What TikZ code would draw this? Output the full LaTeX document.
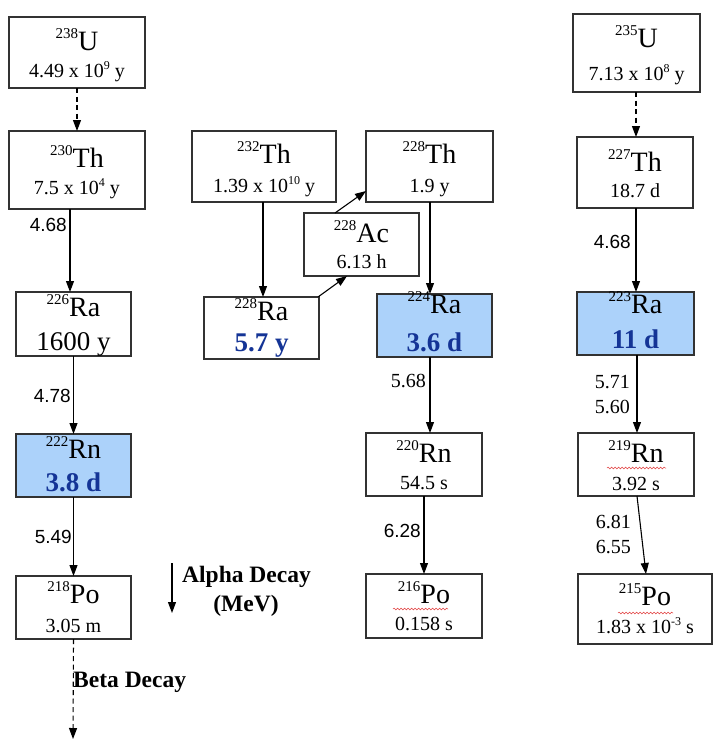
\documentclass[tikz,border=0pt]{standalone}
\usepackage{fontspec}
\setmainfont{Liberation Serif}
\setsansfont{Liberation Sans}
\usetikzlibrary{arrows.meta,decorations.pathmorphing}

\definecolor{rafill}{RGB}{172,210,250}
\definecolor{hlblue}{RGB}{20,52,150}
\definecolor{boxline}{RGB}{50,50,50}
\definecolor{squiggle}{RGB}{225,60,60}

% nuclide symbol with its mass number as a raised prefix
\newcommand\iso[2]{\raisebox{12pt}{\fontsize{15}{15}\selectfont #1}#2}
% raised exponent inside a half-life
\newcommand\pw[1]{\raisebox{8pt}{\fontsize{12}{12}\selectfont #1}}
% nuclide box from its left, top, right and bottom edges
\newcommand\nuc[6]{%
  \node[box,#6,minimum width={(#4-#2)*1pt},minimum height={(#5-#3)*1pt}]
    (#1) at ({(#2+#4)/2},{(#3+#5)/2}) {};%
  \def\cx{(#2+#4)/2}}

\tikzset{
  box/.style={draw=boxline,line width=1.1pt,fill=white,inner sep=0pt,outer sep=0pt},
  hot/.style={fill=rafill},
  plain/.style={},
  elt/.style={anchor=base,inner sep=0pt,font=\fontsize{28}{30}\selectfont},
  life/.style={anchor=base,inner sep=0pt,font=\fontsize{20}{24}\selectfont},
  biglife/.style={anchor=base,inner sep=0pt,font=\fontsize{27}{30}\selectfont},
  hotlife/.style={anchor=base,inner sep=0pt,font=\fontsize{27}{30}\selectfont\bfseries,text=hlblue},
  ensans/.style={anchor=base east,inner sep=0pt,font=\sffamily\fontsize{19}{22}\selectfont},
  enserif/.style={anchor=base east,inner sep=0pt,font=\fontsize{20}{22}\selectfont},
  legend/.style={inner sep=0pt,font=\fontsize{23.5}{26}\selectfont\bfseries},
  arr/.style={line width=1.1pt,-{Triangle[length=11pt,width=8pt]}},
  darr/.style={arr,dash pattern=on 5pt off 3.5pt},
  spell/.style={draw=squiggle,line width=0.5pt,decorate,
    decoration={snake,amplitude=0.9pt,segment length=3.5pt}},
}

\begin{document}
\begin{tikzpicture}[x=1pt,y=-1pt]
\useasboundingbox (0,0) rectangle (713,740);

% ---- uranium-238 series ----
\nuc{u238}{9}{17}{145}{88}{plain}
\node[elt] (u238e) at ({\cx},50) {\iso{238}{U}};
\node[life] (u238l) at ({\cx},77) {4.49 x 10\pw{9} y};

\nuc{th230}{9}{131}{145}{209}{plain}
\node[elt] (th230e) at ({\cx},167) {\iso{230}{Th}};
\node[life] (th230l) at ({\cx},194) {7.5 x 10\pw{4} y};

\nuc{ra226}{16}{292}{131}{356}{plain}
\node[elt] (ra226e) at ({\cx},316) {\iso{226}{Ra}};
\node[biglife] (ra226l) at ({\cx},350) {1600 y};

\nuc{rn222}{16}{434}{131}{497}{hot}
\node[elt] (rn222e) at ({\cx},458) {\iso{222}{Rn}};
\node[hotlife] (rn222l) at ({\cx},491) {3.8 d};

\nuc{po218}{16}{576}{131}{639}{plain}
\node[elt] (po218e) at ({\cx},603) {\iso{218}{Po}};
\node[life] (po218l) at ({\cx},632) {3.05 m};

% ---- thorium-232 series ----
\nuc{th232}{192}{131}{336}{202}{plain}
\node[elt] (th232e) at ({\cx},163) {\iso{232}{Th}};
\node[life] (th232l) at ({\cx},192) {1.39 x 10\pw{10} y};

\nuc{ra228}{204}{297}{319}{359}{plain}
\node[elt] (ra228e) at ({\cx},320) {\iso{228}{Ra}};
\node[hotlife] (ra228l) at ({\cx},351) {5.7 y};

\nuc{ac228}{304}{213}{419}{276}{plain}
\node[elt] (ac228e) at ({\cx},242) {\iso{228}{Ac}};
\node[life] (ac228l) at ({\cx},268) {6.13 h};

\nuc{th228}{366}{131}{493}{202}{plain}
\node[elt] (th228e) at ({\cx},163) {\iso{228}{Th}};
\node[life] (th228l) at ({\cx},192) {1.9 y};

\nuc{ra224}{377}{294}{492}{357}{hot}
\node[elt] (ra224e) at ({\cx},313) {\iso{224}{Ra}};
\node[hotlife] (ra224l) at ({\cx},351) {3.6 d};

\nuc{rn220}{366}{433}{482}{496}{plain}
\node[elt] (rn220e) at ({\cx},462) {\iso{220}{Rn}};
\node[life] (rn220l) at ({\cx},489) {54.5 s};

\nuc{po216}{366}{574}{482}{638}{plain}
\node[elt] (po216e) at ({\cx},603) {\iso{216}{Po}};
\node[life] (po216l) at ({\cx},630) {0.158 s};

% ---- uranium-235 series ----
\nuc{u235}{573}{14}{700}{92}{plain}
\node[elt] (u235e) at ({\cx},47) {\iso{235}{U}};
\node[life] (u235l) at ({\cx},80) {7.13 x 10\pw{8} y};

\nuc{th227}{577}{137}{693}{208}{plain}
\node[elt] (th227e) at ({\cx},171) {\iso{227}{Th}};
\node[life] (th227l) at ({\cx},197) {18.7 d};

\nuc{ra223}{577}{292}{694}{355}{hot}
\node[elt] (ra223e) at ({\cx},313) {\iso{223}{Ra}};
\node[hotlife] (ra223l) at ({\cx},348) {11 d};

\nuc{rn219}{578}{433}{694}{496}{plain}
\node[elt] (rn219e) at ({\cx},462) {\iso{219}{Rn}};
\node[life] (rn219l) at ({\cx},490) {3.92 s};

\nuc{po215}{578}{574}{712}{644}{plain}
\node[elt] (po215e) at ({\cx},605) {\iso{215}{Po}};
\node[life] (po215l) at ({\cx},633) {1.83 x 10\pw{-3} s};

% spelling marks under the element symbols
\draw[spell] (393,609) -- (448,609);
\draw[spell] (607,468) -- (666,468);
\draw[spell] (618,613) -- (673,613);

% ---- decay arrows ----
\draw[darr] (u238.south) -- (th230.north);
\draw[arr] (th230.south -| 70,0) -- (ra226.north -| 70,0);
\draw[arr] (ra226.south) -- (rn222.north);
\draw[arr] (rn222.south) -- (po218.north);
\coordinate (betaend) at (73,739);
\draw[darr] (po218.south) -- (betaend);

\draw[arr] (th232.south -| 263,0) -- (ra228.north -| 263,0);
\draw[arr] ([xshift=-1pt]ra228.north east) -- ([xshift=43pt]ac228.south west);
\draw[arr] ([xshift=31pt]ac228.north west) -- ([yshift=-24.5pt]th228.west);
\draw[arr] (th228.south -| 430,0) -- (ra224.north -| 430,0);
\draw[arr] (ra224.south -| 430,0) -- (rn220.north -| 430,0);
\draw[arr] (rn220.south -| 424,0) -- (po216.north -| 424,0);

\draw[darr] (u235.south -| 636,0) -- (th227.north -| 636,0);
\draw[arr] (th227.south -| 636,0) -- (ra223.north -| 636,0);
\draw[arr] (ra223.south -| 637,0) -- (rn219.north -| 637,0);
\draw[arr] (rn219.south -| 637,0) -- (po215.north -| 646,0);

% ---- alpha energies (MeV) ----
\node[ensans] (e1) at (67,231) {4.68};
\node[ensans] (e2) at (71,402) {4.78};
\node[ensans] (e3) at (72,543) {5.49};
\node[enserif] (e4) at (426,387) {5.68};
\node[ensans] (e5) at (421,537) {6.28};
\node[ensans] (e6) at (631,248) {4.68};
\node[enserif] (e7) at (630,388) {5.71};
\node[enserif] (e8) at (630,413) {5.60};
\node[enserif] (e9) at (631,528) {6.81};
\node[enserif] (e10) at (631,553) {6.55};

% ---- legend ----
\coordinate (ka) at (172,563);
\coordinate (kb) at (172,613);
\draw[arr] (ka) -- (kb);
\node[legend,anchor=base west] (alpha) at (182,582) {Alpha Decay};
\node[legend,anchor=base] (mev) at (246,611) {(MeV)};
\node[legend,anchor=base west] (beta) at (73,687) {Beta Decay};
\end{tikzpicture}
\end{document}
